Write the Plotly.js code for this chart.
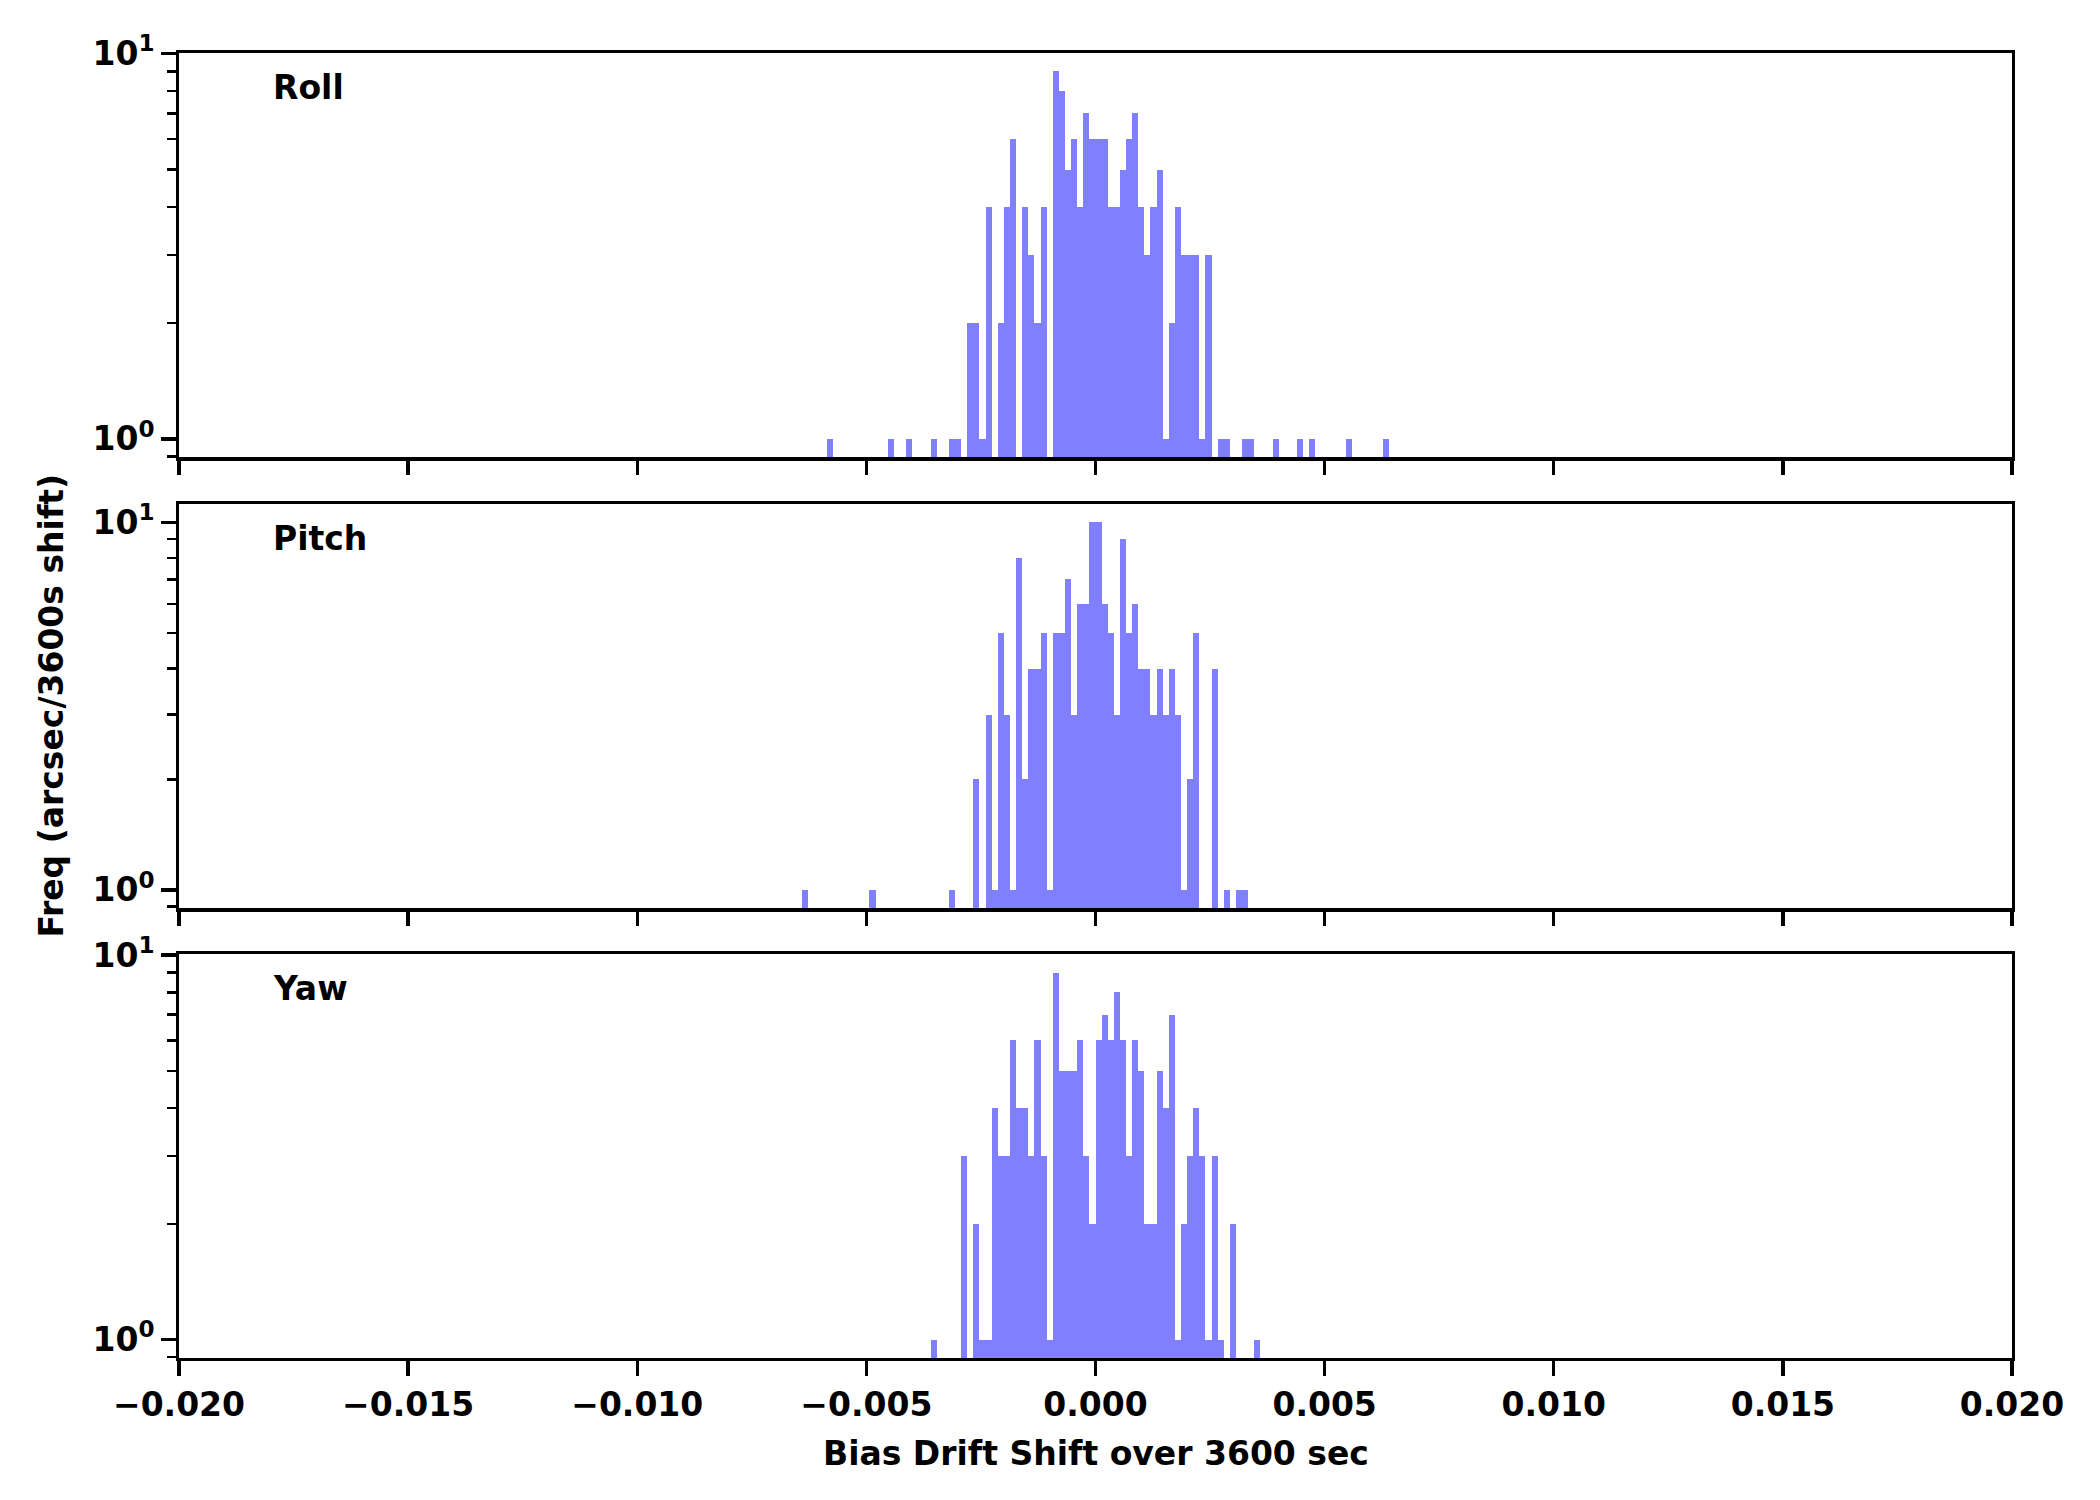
<!DOCTYPE html>
<html>
<head>
<meta charset="utf-8">
<script src="https://cdn.plot.ly/plotly-3.0.1.min.js"></script>
<style>html,body{margin:0;padding:0;background:#fff;}#chart{width:2100px;height:1500px;}</style>
</head>
<body>
<div id="chart"></div>
<script>
// Histogram: 300 bins spanning -0.02 .. 0.02; bin index k covers [k*w, (k+1)*w)
const X_MIN = -0.02, X_MAX = 0.02, N_BINS = 300;
const BIN_W = (X_MAX - X_MIN) / N_BINS;

const panelNames = ["Roll", "Pitch", "Yaw"];

const rollBins   = [-44,-34,-31,-27,-24,-23,-21,-20,-19,-18,-16,-15,-14,-12,-11,-10,-9,-7,-6,-5,-4,-3,-2,-1,0,1,2,3,4,5,6,7,8,9,10,11,12,13,14,15,16,17,18,20,21,24,25,29,33,35,41,47];
const rollCounts = [1,1,1,1,1,1,2,2,1,4,2,4,6,4,3,2,4,9,8,5,6,4,7,6,6,6,4,4,5,6,7,4,3,4,5,1,2,4,3,3,3,1,3,1,1,1,1,1,1,1,1,1];

const pitchBins   = [-48,-37,-24,-20,-18,-17,-16,-15,-14,-13,-12,-11,-10,-9,-8,-7,-6,-5,-4,-3,-2,-1,0,1,2,3,4,5,6,7,8,9,10,11,12,13,14,15,16,19,21,23,24];
const pitchCounts = [1,1,1,2,3,1,5,3,1,8,2,4,4,5,1,5,5,7,3,6,6,10,10,6,5,3,9,5,6,4,4,3,4,3,4,3,1,2,5,4,1,1,1];

const yawBins   = [-27,-22,-20,-19,-18,-17,-16,-15,-14,-13,-12,-11,-10,-9,-8,-7,-6,-5,-4,-3,-2,-1,0,1,2,3,4,5,6,7,8,9,10,11,12,13,14,15,16,17,18,19,20,22,26];
const yawCounts = [1,3,2,1,1,4,3,3,6,4,4,3,6,3,1,9,5,5,5,6,3,2,6,7,6,8,6,3,6,5,2,2,5,4,7,1,2,3,4,3,1,3,1,2,1];

const xTicks = [-0.02,-0.015,-0.01,-0.005,0,0.005,0.01,0.015,0.02];
const yTickVals = [1, 10];
const yTickText = ["10<sup>0</sup>", "10<sup>1</sup>"];
const yMinorVals = [0.9,2,3,4,5,6,7,8,9];

const xLabel = "Bias Drift Shift over 3600 sec";
const yLabel = "Freq (arcsec/3600s shift)";

const series = [
  {bins: rollBins, counts: rollCounts},
  {bins: pitchBins, counts: pitchCounts},
  {bins: yawBins, counts: yawCounts}
];

const FONT = "DejaVu Sans";
const FS = 33;
const LW = 3.3;
const domains = [[0.6902, 1.0], [0.3446, 0.6544], [0.0, 0.3093]];

const traces = series.map((s, i) => ({
  type: "bar",
  x: s.bins.map(k => (k + 0.5) * BIN_W),
  y: s.counts,
  width: s.bins.map(() => BIN_W),
  marker: {color: "#8080ff", line: {width: 0}},
  xaxis: i === 0 ? "x" : "x" + (i + 1),
  yaxis: i === 0 ? "y" : "y" + (i + 1),
  hoverinfo: "x+y"
}));

const layout = {
  width: 2100, height: 1500,
  margin: {l: 179, r: 88, t: 53, b: 142},
  paper_bgcolor: "#fff", plot_bgcolor: "#fff",
  showlegend: false,
  bargap: 0,
  font: {family: FONT, size: FS, color: "#000", weight: "bold"},
  annotations: []
};

series.forEach((s, i) => {
  const sfx = i === 0 ? "" : String(i + 1);
  const maxC = Math.max(...s.counts);
  const lm = Math.log10(maxC);
  layout["xaxis" + sfx] = {
    domain: [0, 1],
    anchor: "y" + sfx,
    range: [X_MIN, X_MAX],
    tickmode: "array",
    tickvals: xTicks,
    tickformat: ".3f",
    showticklabels: i === 2,
    ticks: "outside", ticklen: 14.6, tickwidth: LW, tickcolor: "#000",
    showline: true, mirror: true, linewidth: LW, linecolor: "#000",
    showgrid: false, zeroline: false,
    tickfont: {family: FONT, size: FS, color: "#000", weight: "bold"}
  };
  if (i > 0) layout["xaxis" + sfx].matches = "x";
  layout["yaxis" + sfx] = {
    domain: domains[i],
    anchor: "x" + sfx,
    type: "log",
    range: [-0.05 * lm, 1.05 * lm],
    tickmode: "array",
    tickvals: yTickVals,
    ticktext: yTickText,
    ticks: "outside", ticklen: 14.6, tickwidth: LW, tickcolor: "#000",
    minor: {tickmode: "array", tickvals: yMinorVals, ticks: "outside", ticklen: 8.3, tickwidth: 2.5, tickcolor: "#000", showgrid: false},
    showline: true, mirror: true, linewidth: LW, linecolor: "#000",
    showgrid: false, zeroline: false,
    tickfont: {family: FONT, size: FS, color: "#000", weight: "bold"}
  };
  layout.annotations.push({
    text: panelNames[i],
    xref: "x" + sfx, yref: "y" + sfx + " domain",
    x: -0.018, y: 0.915,
    xanchor: "left", yanchor: "middle",
    showarrow: false,
    font: {family: FONT, size: FS, color: "#000", weight: "bold"}
  });
});

layout.annotations.push({
  text: yLabel, xref: "paper", yref: "paper",
  x: -0.0698, y: 0.5, xanchor: "center", yanchor: "middle",
  textangle: -90, showarrow: false,
  font: {family: FONT, size: FS, color: "#000", weight: "bold"}
});
layout.annotations.push({
  text: xLabel, xref: "paper", yref: "paper",
  x: 0.5, y: -0.0728, xanchor: "center", yanchor: "middle",
  showarrow: false,
  font: {family: FONT, size: FS, color: "#000", weight: "bold"}
});

Plotly.newPlot("chart", traces, layout, {staticPlot: true});
</script>
</body>
</html>
